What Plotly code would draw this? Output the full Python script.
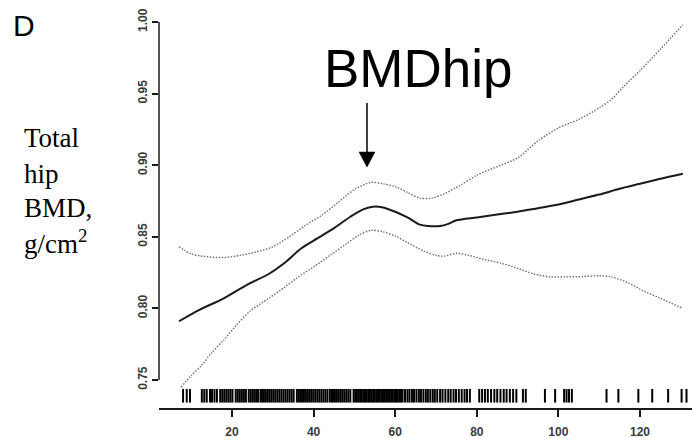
import plotly.graph_objects as go

# Smoothed fit of total hip BMD with its confidence band
fit_x = [7, 12, 18, 24, 29, 33, 37, 41, 45, 49, 52, 54.5, 57, 60, 63, 66, 68, 71, 73, 75,
         80, 85, 90, 95, 100, 105, 110, 115, 120, 125, 130.5]
fit_y = [0.791, 0.799, 0.807, 0.817, 0.824, 0.832, 0.842, 0.849, 0.856, 0.864, 0.869, 0.871,
         0.8705, 0.8675, 0.8635, 0.8585, 0.8575, 0.8575, 0.859, 0.8615,
         0.8635, 0.8655, 0.8675, 0.870, 0.8725, 0.876, 0.8795, 0.8835, 0.887, 0.8905, 0.894]

upper_x = [7, 10, 14, 18, 22, 26, 30, 34, 38, 42, 46, 50, 54, 57, 60, 63, 66, 69, 72, 76,
           80, 85, 90, 95, 100, 105, 110, 113, 116, 120, 125, 130.5]
upper_y = [0.843, 0.838, 0.836, 0.8355, 0.837, 0.8395, 0.843, 0.850, 0.858, 0.865, 0.874,
           0.883, 0.888, 0.887, 0.885, 0.881, 0.877, 0.877, 0.880, 0.886,
           0.893, 0.899, 0.905, 0.917, 0.926, 0.932, 0.940, 0.946, 0.955, 0.966, 0.981, 0.998]

lower_x = [7.5, 10, 12.5, 15, 18, 21, 24.4, 29, 33, 36, 40, 44, 48, 51, 54, 57, 60, 63, 67,
           70, 72, 75, 78, 82, 86, 90, 94, 98, 102, 106, 110, 113, 117, 121, 125, 130.5]
lower_y = [0.745, 0.753, 0.760, 0.769, 0.778, 0.788, 0.798, 0.807, 0.815, 0.8214, 0.829,
           0.837, 0.845, 0.851, 0.8545, 0.8535, 0.8505, 0.846, 0.840,
           0.837, 0.8365, 0.8385, 0.837, 0.834, 0.8315, 0.828, 0.824, 0.822, 0.822, 0.8222,
           0.8228, 0.822, 0.818, 0.812, 0.807, 0.800]

# Individual observations shown as a rug along the x axis
rug_x = [
    8.0, 8.9, 9.7,
    12.6, 13.2, 13.8, 14.6, 15.1, 15.7, 16.3,
    17.1, 17.6, 18.1, 18.6, 19.1, 19.6, 20.1,
    20.9, 21.4, 21.9, 22.4, 22.9, 23.4,
    24.1, 24.6, 25.1, 25.6, 26.1, 26.5,
    27.1, 27.6, 28.1, 28.6, 29.1, 29.6, 30.1, 30.6, 31.1, 31.6, 32.1, 32.6, 33.1, 33.6,
    34.1, 34.6, 35.1,
    35.9, 36.4, 36.9, 37.4, 37.9, 38.4, 38.9, 39.4, 39.9, 40.4, 40.9, 41.4, 41.9, 42.4,
    42.9, 43.4,
    44.0, 44.5, 45.0, 45.5, 46.0, 46.5, 47.0, 47.5, 48.0, 48.5, 49.0,
    49.8, 50.2, 50.6, 51.0, 51.4, 51.8, 52.2, 52.6, 53.0, 53.4, 53.8, 54.2, 54.6, 55.0,
    55.4, 55.8, 56.2, 56.6, 57.0, 57.4, 57.8, 58.2, 58.6, 59.0, 59.4, 59.8, 60.2, 60.6,
    61.0, 61.4, 61.8,
    62.4, 63.0, 63.5, 64.1, 64.6, 65.2, 65.8, 66.3, 66.9, 67.5, 68.0, 68.6, 69.2, 69.7,
    70.3, 71.0, 71.6, 72.3, 73.0, 73.6, 74.3, 74.9, 75.6, 76.3, 77.0, 77.6, 78.3,
    80.6, 81.3, 82.0, 82.7, 83.5, 84.3, 85.0, 85.8, 86.6, 87.3, 88.1, 88.9, 89.7, 91.3, 92.0,
    96.7, 99.2, 101.4, 102.0, 102.6, 103.3,
    111.8, 114.7, 119.6, 123.0, 126.9, 130.2, 131.4,
]

x_ticks = [20, 40, 60, 80, 100, 120]
y_ticks = [0.75, 0.80, 0.85, 0.90, 0.95, 1.00]
y_tick_text = ["0.75", "0.80", "0.85", "0.90", "0.95", "1.00"]

# plot-area geometry in pixels
W_FIG, H_FIG = 692, 438
L, R, T, B = 159, 692, 15, 408
X_RANGE = [2.1, 132.75]
Y_RANGE = [0.7304, 1.0049]
RUG_LO, RUG_HI = 0.7342, 0.7437


def px_x(p):
    return (p - L) / (R - L)


def px_y(p):
    return (B - p) / (B - T)


rug_xs, rug_ys = [], []
for v in rug_x:
    rug_xs += [v, v, None]
    rug_ys += [RUG_LO, RUG_HI, None]

band_line = dict(color="#707070", width=1.4, dash="1.5px,1.5px", shape="spline", smoothing=0.8)

fig = go.Figure()
fig.add_trace(go.Scatter(x=rug_xs, y=rug_ys, mode="lines",
                         line=dict(color="#000000", width=2), hoverinfo="skip"))
fig.add_trace(go.Scatter(x=upper_x, y=upper_y, mode="lines", line=band_line))
fig.add_trace(go.Scatter(x=lower_x, y=lower_y, mode="lines", line=band_line))
fig.add_trace(go.Scatter(x=fit_x, y=fit_y, mode="lines",
                         line=dict(color="#1a1a1a", width=2, shape="spline", smoothing=0.8)))

# detached y axis line spanning the tick range
fig.add_shape(type="line", xref="paper", yref="y", x0=0, x1=0,
              y0=y_ticks[0], y1=y_ticks[-1], line=dict(color="#1a1a1a", width=1.5))

# arrow pointing at the peak of the fitted curve: shaft and solid head
ax_px, top_px, head_top_px, tip_px, half_w = 367, 103, 152, 167, 8
fig.add_shape(type="line", xref="paper", yref="paper",
              x0=px_x(ax_px), x1=px_x(ax_px), y0=px_y(top_px), y1=px_y(head_top_px + 1),
              line=dict(color="black", width=1.5))
fig.add_shape(type="path", xref="paper", yref="paper",
              path=(f"M {px_x(ax_px - half_w)} {px_y(head_top_px)} "
                    f"L {px_x(ax_px + half_w)} {px_y(head_top_px)} "
                    f"L {px_x(ax_px)} {px_y(tip_px)} Z"),
              fillcolor="black", line=dict(color="black", width=0.5))

tick_font = dict(family="Liberation Sans, Arial, sans-serif", size=12, color="#3a3a3a",
                 weight="bold")

fig.update_layout(
    width=W_FIG, height=H_FIG,
    margin=dict(l=L, r=W_FIG - R, t=T, b=H_FIG - B),
    plot_bgcolor="white", paper_bgcolor="white",
    showlegend=False,
    xaxis=dict(range=X_RANGE, tickvals=x_ticks, ticks="outside", ticklen=7, tickwidth=1.5,
               tickcolor="#1a1a1a", showline=True, linecolor="#1a1a1a", linewidth=1.5,
               showgrid=False, zeroline=False, tickfont=tick_font, ticklabelstandoff=5),
    yaxis=dict(range=Y_RANGE, tickvals=y_ticks, ticktext=y_tick_text, ticks="outside",
               ticklen=6, tickwidth=1.5, tickcolor="#1a1a1a", showline=False,
               showgrid=False, zeroline=False, tickangle=-90, tickfont=tick_font),
)

serif = "Liberation Serif, Times New Roman, serif"
sans = "Liberation Sans, Arial, sans-serif"

fig.add_annotation(text="D", xref="paper", yref="paper", x=px_x(11), y=px_y(26),
                   xanchor="left", yanchor="middle", showarrow=False,
                   font=dict(family=sans, size=30, color="black"))

label_lines = ["Total", "hip", "BMD,", "g/cm<sup>2</sup>"]
label_centers = [138, 174, 208, 242]
for txt, cy in zip(label_lines, label_centers):
    fig.add_annotation(text=txt, xref="paper", yref="paper", x=px_x(22), y=px_y(cy),
                       xanchor="left", yanchor="middle", showarrow=False,
                       font=dict(family=serif, size=27, color="black"))

fig.add_annotation(text="BMDhip", xref="paper", yref="paper", x=px_x(322), y=px_y(68),
                   xanchor="left", yanchor="middle", showarrow=False,
                   font=dict(family=sans, size=53, color="black"))

fig.write_html("out.html")
